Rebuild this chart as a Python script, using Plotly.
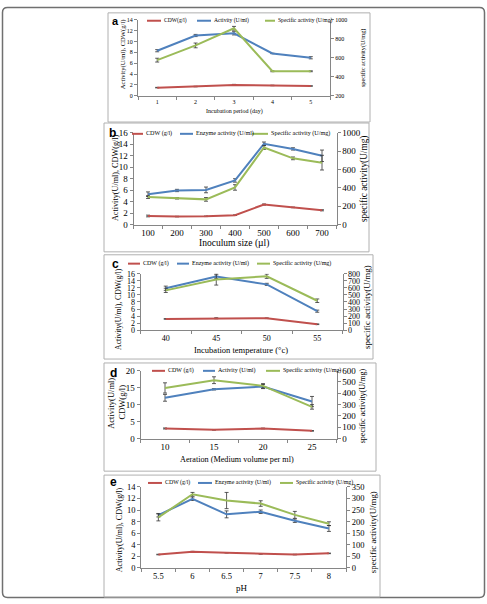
import plotly.graph_objects as go

W, H = 487, 604
RED = "#C0504D"
BLUE = "#4F81BD"
GREEN = "#9BBB59"
AXC = "#868686"
SERIF = "Liberation Serif, Times New Roman, serif"
SANS = "Liberation Sans, Arial, sans-serif"

# ---------------- data ----------------
# (a) incubation period
a_x = ["1", "2", "3", "4", "5"]
a_cdw = [1.5, 1.7, 2.0, 1.9, 1.8]
a_cdw_err = [0.05, 0.05, 0.1, 0.05, 0.05]
a_act = [8.3, 11.1, 11.5, 7.8, 7.0]
a_act_err = [0.2, 0.2, 0.3, 0.05, 0.2]
a_spec = [575, 730, 910, 458, 458]
a_spec_err = [20, 25, 20, 5, 5]

# (b) inoculum size
b_x = ["100", "200", "300", "400", "500", "600", "700"]
b_cdw = [1.5, 1.4, 1.45, 1.65, 3.5, 3.0, 2.5]
b_cdw_err = [0.15, 0.05, 0.05, 0.05, 0.1, 0.05, 0.1]
b_act = [5.3, 5.95, 6.05, 7.7, 14.1, 13.2, 12.0]
b_act_err = [0.4, 0.2, 0.5, 0.3, 0.3, 0.2, 1.0]
b_spec = [300, 287, 275, 405, 840, 722, 675]
b_spec_err = [15, 8, 20, 30, 20, 15, 80]

# (c) incubation temperature
c_x = ["40", "45", "50", "55"]
c_cdw = [3.2, 3.4, 3.4, 1.7]
c_cdw_err = [0.1, 0.15, 0.1, 0.1]
c_act = [11.9, 15.2, 13.0, 5.4]
c_act_err = [0.6, 0.5, 0.3, 0.3]
c_spec = [565, 720, 765, 418]
c_spec_err = [30, 80, 30, 25]

# (d) aeration
d_x = ["10", "15", "20", "25"]
d_cdw = [3.0, 2.6, 3.0, 2.3]
d_cdw_err = [0.15, 0.1, 0.1, 0.1]
d_act = [12.0, 14.5, 15.3, 10.9]
d_act_err = [1.0, 0.2, 0.6, 1.5]
d_spec = [447, 515, 465, 280]
d_spec_err = [45, 30, 20, 20]

# (e) pH
e_x = ["5.5", "6", "6.5", "7", "7.5", "8"]
e_cdw = [2.3, 2.8, 2.6, 2.4, 2.3, 2.5]
e_cdw_err = [0.05, 0.05, 0.05, 0.05, 0.05, 0.05]
e_act = [9.1, 11.95, 9.25, 9.7, 8.15, 6.8]
e_act_err = [0.3, 0.3, 0.6, 0.3, 0.3, 0.5]
e_spec = [218, 318, 291, 278, 229, 191]
e_spec_err = [15, 8, 35, 12, 15, 8]


def fx(px):
    return px / W


def fy(py):
    return 1 - py / H


panels = [
    dict(letter="a", x=a_x, cdw=a_cdw, cdwe=a_cdw_err, act=a_act, acte=a_act_err,
         spec=a_spec, spece=a_spec_err,
         plot=(138, 15, 330, 92.3), box=(108, 8, 370, 119),
         yr=(0, 14), ydt=2, y2r=(200, 1000), y2dt=200, tick=6,
         names=["CDW(g/l)", "Activity (U/ml)", "Specific activity (U/mg)"],
         leg_y=16, leg=[(147, 161, 162), (197, 211, 212), (265, 275, 276)], legsize=5.6,
         letter_pos=(115, 16, 11),
         ytitle="Activity(U/ml), CDW(g/l)", yt_pos=(123, 50), ytsize=6.6,
         y2t_pos=(363, 54), y2tsize=6.3,
         xtitle="Incubation period (day)", xt_pos=(234, 108), xtsize=6),
    dict(letter="b", x=b_x, cdw=b_cdw, cdwe=b_cdw_err, act=b_act, acte=b_act_err,
         spec=b_spec, spece=b_spec_err,
         plot=(133.5, 130, 336.5, 223.3), box=(104, 120, 369, 251),
         yr=(0, 16), ydt=2, y2r=(0, 1000), y2dt=200, tick=9,
         names=["CDW (g/l)", "Enzyme activity (U/ml)", "Specific activity (U/mg)"],
         leg_y=131, leg=[(132, 143, 144), (180, 193, 194), (252, 268, 269)], legsize=6.1,
         letter_pos=(112, 130, 12),
         ytitle="Activity(U/ml), CDW(g/l)", yt_pos=(115, 176), ytsize=8.2,
         y2t_pos=(364, 177), y2tsize=9.3,
         xtitle="Inoculum size (µl)", xt_pos=(234, 243), xtsize=9.5),
    dict(letter="c", x=c_x, cdw=c_cdw, cdwe=c_cdw_err, act=c_act, acte=c_act_err,
         spec=c_spec, spece=c_spec_err,
         plot=(140.5, 273.3, 342.5, 330.7), box=(104, 254, 373, 360),
         yr=(0, 16), ydt=2, y2r=(0, 800), y2dt=100, tick=8,
         names=["CDW (g/l)", "Enzyme activity (U/ml)", "Specific activity (U/mg)"],
         leg_y=263, leg=[(128, 140, 141), (177, 189, 190), (257, 270, 271)], legsize=6,
         letter_pos=(115, 263, 12),
         ytitle="Activity(U/ml), CDW(g/l)", yt_pos=(119, 309), ytsize=7.7,
         y2t_pos=(367, 307), y2tsize=9,
         xtitle="Incubation temperature (°c)", xt_pos=(241, 351), xtsize=8.5),
    dict(letter="d", x=d_x, cdw=d_cdw, cdwe=d_cdw_err, act=d_act, acte=d_act_err,
         spec=d_spec, spece=d_spec_err,
         plot=(140.5, 371.7, 336.5, 441), box=(104, 364, 376, 474),
         yr=(0, 20), ydt=5, y2r=(0, 600), y2dt=100, tick=9,
         names=["CDW (g/l)", "Activity (U/ml)", "Specific activity (U/mg)"],
         leg_y=372, leg=[(152, 165, 166), (203, 215, 216), (266, 280, 281)], legsize=6,
         letter_pos=(113, 374, 12),
         ytitle="Activity(U/ml),<br>CDW(g/l)", yt_pos=(116.5, 404), ytsize=8.5,
         y2t_pos=(362, 408), y2tsize=8,
         xtitle="Aeration (Medium volume per ml)", xt_pos=(237, 462), xtsize=8.2),
    dict(letter="e", x=e_x, cdw=e_cdw, cdwe=e_cdw_err, act=e_act, acte=e_act_err,
         spec=e_spec, spece=e_spec_err,
         plot=(141.3, 490, 346, 572.3), box=(104, 478, 380, 602),
         yr=(0, 14), ydt=2, y2r=(0, 350), y2dt=50, tick=8.5,
         names=["CDW (g/l)", "Enzyme activity (U/ml)", "Specific activity (U/mg)"],
         leg_y=486, leg=[(148, 162, 163), (198, 212, 213), (280, 293, 294)], legsize=5.9,
         letter_pos=(113, 485, 12),
         ytitle="Activity(U/ml), CDW(g/l)", yt_pos=(119, 534), ytsize=8,
         y2t_pos=(373, 536), y2tsize=8.8,
         xtitle="pH", xt_pos=(242, 593), xtsize=9),
]

fig = go.Figure()
layout = dict(width=W, height=H, margin=dict(l=0, r=0, t=0, b=0),
              paper_bgcolor="white", plot_bgcolor="rgba(0,0,0,0)",
              showlegend=False, font=dict(family=SERIF, color="#000"))
shapes = []
annotations = []

# outer rounded frame (in paper fractions)
r = 5
X0, Y0, X1, Y1 = 2.5, 2.5, 484.5, 602.5
pts = (f"M {fx(X0 + r)} {fy(Y0)} L {fx(X1 - r)} {fy(Y0)} Q {fx(X1)} {fy(Y0)} {fx(X1)} {fy(Y0 + r)} "
       f"L {fx(X1)} {fy(Y1 - r)} Q {fx(X1)} {fy(Y1)} {fx(X1 - r)} {fy(Y1)} "
       f"L {fx(X0 + r)} {fy(Y1)} Q {fx(X0)} {fy(Y1)} {fx(X0)} {fy(Y1 - r)} "
       f"L {fx(X0)} {fy(Y0 + r)} Q {fx(X0)} {fy(Y0)} {fx(X0 + r)} {fy(Y0)} Z")
shapes.append(dict(type="path", xref="paper", yref="paper", path=pts,
                   line=dict(color="#707070", width=1.5)))

for k, p in enumerate(panels, start=1):
    xid = "x" if k == 1 else f"x{k}"
    xkey = "xaxis" if k == 1 else f"xaxis{k}"
    yl = 2 * k - 1
    yr = 2 * k
    ylid = "y" if yl == 1 else f"y{yl}"
    ylkey = "yaxis" if yl == 1 else f"yaxis{yl}"
    yrid = f"y{yr}"
    yrkey = f"yaxis{yr}"
    L, T, R, B = p["plot"]
    n = len(p["x"])
    tf = dict(family=SERIF, size=p["tick"], color="#000")
    layout[xkey] = dict(domain=[fx(L), fx(R)], anchor=ylid, type="category",
                        range=[-0.5, n - 0.5], showline=True, linecolor=AXC, linewidth=1,
                        ticks="outside", ticklen=3, tickcolor=AXC, tickson="boundaries",
                        tickfont=tf, showgrid=False, zeroline=False)
    layout[ylkey] = dict(domain=[fy(B), fy(T)], anchor=xid, range=list(p["yr"]), dtick=p["ydt"],
                         showline=True, linecolor=AXC, linewidth=1, ticks="outside", ticklen=3,
                         tickcolor=AXC, tickfont=tf, showgrid=False, zeroline=False)
    layout[yrkey] = dict(overlaying=ylid, side="right", anchor=xid, range=list(p["y2r"]),
                         dtick=p["y2dt"], showline=True, linecolor=AXC, linewidth=1,
                         ticks="outside", ticklen=3, tickcolor=AXC, tickfont=tf,
                         showgrid=False, zeroline=False)

    series = [(p["cdw"], p["cdwe"], RED, ylid), (p["act"], p["acte"], BLUE, ylid),
              (p["spec"], p["spece"], GREEN, yrid)]
    for (vals, errs, col, yax), name in zip(series, p["names"]):
        fig.add_trace(go.Scatter(
            x=p["x"], y=vals, name=name, mode="lines", xaxis=xid, yaxis=yax,
            line=dict(color=col, width=2),
            error_y=dict(type="data", array=errs, visible=True, color="#333",
                         thickness=0.8, width=2)))

    # panel box
    bx0, by0, bx1, by1 = p["box"]
    shapes.append(dict(type="rect", xref="paper", yref="paper",
                       x0=fx(bx0), x1=fx(bx1), y0=fy(by1), y1=fy(by0),
                       line=dict(color="#b0b0b0", width=1)))
    # legend
    cols = [RED, BLUE, GREEN]
    for (lx0, lx1, tx), col, name in zip(p["leg"], cols, p["names"]):
        shapes.append(dict(type="line", xref="paper", yref="paper",
                           x0=fx(lx0), x1=fx(lx1), y0=fy(p["leg_y"]), y1=fy(p["leg_y"]),
                           line=dict(color=col, width=2)))
        annotations.append(dict(xref="paper", yref="paper", x=fx(tx), y=fy(p["leg_y"]),
                                text=name, showarrow=False, xanchor="left", yanchor="middle",
                                font=dict(family=SERIF, size=p["legsize"], color="#000")))
    lx, ly, ls = p["letter_pos"]
    annotations.append(dict(xref="paper", yref="paper", x=fx(lx), y=fy(ly), text=f"<b>{p['letter']}</b>",
                            showarrow=False, xanchor="center", yanchor="middle",
                            font=dict(family=SANS, size=ls, color="#000")))
    annotations.append(dict(xref="paper", yref="paper", x=fx(p["yt_pos"][0]), y=fy(p["yt_pos"][1]),
                            text=p["ytitle"], textangle=-90, showarrow=False,
                            xanchor="center", yanchor="middle",
                            font=dict(family=SERIF, size=p["ytsize"], color="#000")))
    annotations.append(dict(xref="paper", yref="paper", x=fx(p["y2t_pos"][0]), y=fy(p["y2t_pos"][1]),
                            text="specific activity(U/mg)", textangle=-90, showarrow=False,
                            xanchor="center", yanchor="middle",
                            font=dict(family=SERIF, size=p["y2tsize"], color="#000")))
    annotations.append(dict(xref="paper", yref="paper", x=fx(p["xt_pos"][0]), y=fy(p["xt_pos"][1]),
                            text=p["xtitle"], showarrow=False, xanchor="center", yanchor="middle",
                            font=dict(family=SERIF, size=p["xtsize"], color="#000")))

layout["shapes"] = shapes
layout["annotations"] = annotations
fig.update_layout(**layout)
fig.write_html("out.html")
